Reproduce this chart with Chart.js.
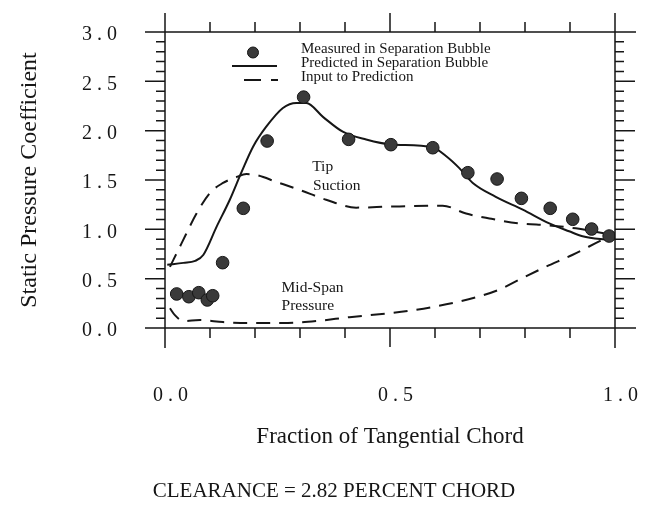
<!DOCTYPE html>
<html>
<head>
<meta charset="utf-8">
<script src="https://cdn.jsdelivr.net/npm/chart.js@4/dist/chart.umd.min.js"></script>
<style>
  html, body { margin: 0; padding: 0; background: #fff; }
  canvas { display: block; }
</style>
</head>
<body>
<canvas id="cpChart" width="649" height="516"></canvas>
<script>
// Measured static pressure in the separation bubble (dots)
const measuredX = [0.026, 0.053, 0.075, 0.094, 0.106, 0.128, 0.174, 0.227, 0.308, 0.408,
                   0.502, 0.595, 0.673, 0.738, 0.792, 0.856, 0.906, 0.948, 0.987];
const measuredY = [0.345, 0.317, 0.358, 0.284, 0.327, 0.662, 1.213, 1.895, 2.34, 1.912,
                   1.858, 1.827, 1.574, 1.510, 1.314, 1.213, 1.102, 1.003, 0.932];

// Predicted in separation bubble (solid)
const predictedX = [0.005, 0.041, 0.067, 0.085, 0.115, 0.144, 0.170, 0.196, 0.225, 0.262,
                    0.292, 0.314, 0.351, 0.395, 0.447, 0.502, 0.595, 0.625, 0.654, 0.684,
                    0.735, 0.795, 0.854, 0.898, 0.928, 0.987];
const predictedY = [0.64, 0.66, 0.68, 0.74, 1.03, 1.30, 1.58, 1.84, 2.04, 2.23,
                    2.28, 2.28, 2.14, 1.99, 1.91, 1.86, 1.83, 1.74, 1.62, 1.47,
                    1.33, 1.20, 1.06, 0.98, 0.93, 0.89];

// Input to prediction, tip suction side (upper dashed)
const suctionX = [0.011, 0.037, 0.070, 0.100, 0.129, 0.159, 0.181, 0.203, 0.248, 0.299,
                  0.358, 0.425, 0.499, 0.617, 0.669, 0.721, 0.787, 0.854, 0.913, 0.975];
const suctionY = [0.62, 0.86, 1.16, 1.37, 1.47, 1.53, 1.56, 1.55, 1.48, 1.40,
                  1.30, 1.22, 1.23, 1.24, 1.16, 1.11, 1.06, 1.04, 1.01, 0.96];

// Input to prediction, mid-span pressure side (lower dashed)
const pressureX = [0.011, 0.022, 0.041, 0.078, 0.129, 0.188, 0.262, 0.336, 0.410, 0.499,
                   0.551, 0.625, 0.698, 0.743, 0.787, 0.846, 0.905, 0.957, 0.987];
const pressureY = [0.20, 0.13, 0.07, 0.08, 0.06, 0.05, 0.05, 0.07, 0.11, 0.15,
                   0.18, 0.24, 0.32, 0.39, 0.49, 0.62, 0.74, 0.86, 0.93];

// In-plot labels (text, x value, y value at baseline)
const plotNotes = [
    ['Tip', 0.327, 1.594],
    ['Suction', 0.329, 1.396],
    ['Mid-Span', 0.259, 0.368],
    ['Pressure', 0.259, 0.182]
];

const legendItems = ['Measured in Separation Bubble', 'Predicted in Separation Bubble', 'Input to Prediction'];

const ink = '#161616';
const serif = "'Liberation Serif', 'Times New Roman', serif";

const toPoints = (xs, ys) => xs.map((x, i) => ({ x, y: ys[i] }));

// Draws the boxed frame with minor ticks, the legend and the notes
const framePlugin = {
    id: 'framePlugin',
    beforeDraw(chart) {
        chart.ctx.letterSpacing = '0px';
    },
    afterDatasetsDraw(chart) {
        const { ctx, chartArea: a, scales: { x, y } } = chart;
        ctx.save();
        ctx.strokeStyle = ink;
        ctx.lineWidth = 1.5;
        ctx.beginPath();
        ctx.moveTo(a.left, a.top - 19); ctx.lineTo(a.left, a.bottom + 20);
        ctx.moveTo(a.right, a.top - 19); ctx.lineTo(a.right, a.bottom + 20);
        ctx.moveTo(a.left - 19, a.top); ctx.lineTo(a.right + 21, a.top);
        ctx.moveTo(a.left - 18, a.bottom); ctx.lineTo(a.right + 21, a.bottom);
        for (let i = 0; i <= 10; i++) {
            const px = x.getPixelForValue(i / 10);
            const len = i % 5 === 0 ? 19 : 10;
            ctx.moveTo(px, a.bottom); ctx.lineTo(px, a.bottom + len);
            ctx.moveTo(px, a.top); ctx.lineTo(px, a.top - len);
        }
        for (let i = 0; i <= 30; i++) {
            const py = y.getPixelForValue(i / 10);
            const len = i % 5 === 0 ? 20 : 9;
            ctx.moveTo(a.left, py); ctx.lineTo(a.left - len, py);
            ctx.moveTo(a.right, py); ctx.lineTo(a.right + len, py);
        }
        ctx.stroke();

        // legend
        ctx.fillStyle = '#3a3a3a';
        ctx.lineWidth = 1;
        ctx.beginPath();
        ctx.arc(253, 52.5, 5.5, 0, Math.PI * 2);
        ctx.fill();
        ctx.stroke();
        ctx.lineWidth = 2;
        ctx.beginPath();
        ctx.moveTo(232, 66); ctx.lineTo(277, 66);
        ctx.stroke();
        ctx.setLineDash([17, 10]);
        ctx.beginPath();
        ctx.moveTo(244, 80); ctx.lineTo(278, 80);
        ctx.stroke();
        ctx.setLineDash([]);

        ctx.fillStyle = ink;
        ctx.font = '15px ' + serif;
        ctx.textAlign = 'left';
        ctx.textBaseline = 'alphabetic';
        legendItems.forEach((t, i) => ctx.fillText(t, 301, 52.5 + i * 14));

        ctx.font = '15.5px ' + serif;
        plotNotes.forEach(([t, vx, vy]) => {
            ctx.fillText(t, x.getPixelForValue(vx), y.getPixelForValue(vy));
        });

        ctx.font = '21px ' + serif;
        ctx.textAlign = 'center';
        ctx.fillText('CLEARANCE = 2.82 PERCENT CHORD', 334, 497);
        ctx.restore();

        // spaced-out digits for the tick labels drawn next (ticks.z = 1)
        ctx.letterSpacing = '5px';
    },
    afterDraw(chart) {
        chart.ctx.letterSpacing = '0px';
    }
};

const chart = new Chart(document.getElementById('cpChart'), {
    type: 'scatter',
    data: {
        datasets: [{
            label: legendItems[0],
            data: toPoints(measuredX, measuredY),
            pointRadius: 6.3,
            pointBackgroundColor: '#3a3a3a',
            pointBorderColor: ink,
            pointBorderWidth: 1,
            showLine: false
        }, {
            label: legendItems[1],
            data: toPoints(predictedX, predictedY),
            showLine: true,
            pointRadius: 0,
            borderColor: ink,
            borderWidth: 2,
            cubicInterpolationMode: 'monotone'
        }, {
            label: legendItems[2],
            data: toPoints(suctionX, suctionY),
            showLine: true,
            pointRadius: 0,
            borderColor: ink,
            borderWidth: 2,
            borderDash: [14, 9],
            cubicInterpolationMode: 'monotone'
        }, {
            label: legendItems[2],
            data: toPoints(pressureX, pressureY),
            showLine: true,
            pointRadius: 0,
            borderColor: ink,
            borderWidth: 2,
            borderDash: [14, 9],
            cubicInterpolationMode: 'monotone'
        }]
    },
    options: {
        responsive: false,
        animation: false,
        layout: { padding: { top: 32, right: 34, left: 0, bottom: 0 } },
        plugins: {
            legend: { display: false },
            tooltip: { enabled: false }
        },
        scales: {
            x: {
                type: 'linear',
                min: 0,
                max: 1,
                afterFit: (scale) => {
                    scale.height = 188;
                    scale.paddingLeft = 0;
                    scale.paddingRight = 0;
                },
                grid: { display: false },
                border: { display: false },
                ticks: {
                    stepSize: 0.5,
                    autoSkip: false,
                    maxRotation: 0,
                    padding: 48,
                    labelOffset: 8,
                    z: 1,
                    color: ink,
                    font: { family: serif, size: 20 },
                    callback: (v) => v.toFixed(1)
                },
                title: {
                    display: true,
                    text: 'Fraction of Tangential Chord',
                    color: ink,
                    font: { family: serif, size: 23 },
                    padding: { top: 0, bottom: 65 }
                }
            },
            y: {
                type: 'linear',
                min: 0,
                max: 3,
                afterFit: (scale) => {
                    scale.width = 165;
                    scale.paddingTop = 0;
                    scale.paddingBottom = 0;
                },
                grid: { display: false },
                border: { display: false },
                ticks: {
                    stepSize: 0.5,
                    padding: 35,
                    labelOffset: 3,
                    z: 1,
                    color: ink,
                    font: { family: serif, size: 20 },
                    callback: (v) => v.toFixed(1)
                },
                title: {
                    display: true,
                    text: 'Static Pressure Coefficient',
                    color: ink,
                    font: { family: serif, size: 24 },
                    padding: { top: 15, bottom: 0 }
                }
            }
        }
    },
    plugins: [framePlugin]
});
</script>
</body>
</html>
